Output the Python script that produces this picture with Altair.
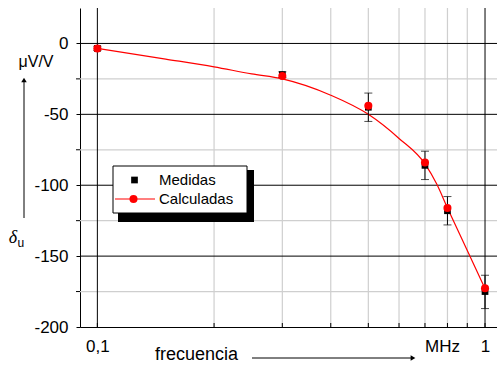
import altair as alt
import pandas as pd

# ---- data ----
freq = [0.1, 0.3, 0.5, 0.7, 0.8, 1.0]                       # MHz
medidas = [-3.5, -22.0, -45.0, -86.0, -118.0, -175.0]         # µV/V
err_low = [-5.0, -24.0, -55.0, -96.0, -128.0, -187.0]
err_high = [-2.0, -20.0, -35.0, -76.0, -108.0, -163.5]
calculadas = [-3.5, -23.0, -44.0, -84.0, -116.0, -172.7]

curve_freq = [0.1, 0.15, 0.2, 0.25, 0.3, 0.4, 0.5, 0.6, 0.7, 0.75, 0.8, 0.9, 1.0]
curve_delta = [-3.5, -11.0, -16.5, -21.5, -25.0, -36.5, -50.0, -67.0, -85.0, -99.0, -116.0, -146.0, -173.0]

x_major = [0.1, 1.0]
x_minor = [0.2, 0.3, 0.4, 0.5, 0.6, 0.7, 0.8, 0.9]
y_major = [-150, -100, -50, 0]
y_minor = [-175, -125, -75, -25]
y_labels = [-200, -150, -100, -50, 0]
x_labels = [0.1, 1.0]

W, H = 417, 319
FONT = "Liberation Sans"

xs = alt.Scale(type="log", domain=[0.0902, 1.0737], nice=False)
ys = alt.Scale(domain=[-200, 25], nice=False)

x_axis = alt.Axis(values=x_labels, labelExpr="datum.value < 0.5 ? '0,1' : '1'",
                  ticks=False, grid=False, title=None, labelFontSize=17, labelFont=FONT,
                  labelColor="black", labelPadding=11, domainColor="black", domainWidth=1,
                  labelFlush=False, labelOverlap=False)
y_axis = alt.Axis(values=y_labels, labelExpr="'' + datum.value", tickSize=4, tickColor="black",
                  grid=False, title=None, labelFontSize=17, labelFont=FONT, labelColor="black",
                  labelPadding=8, domainColor="black", domainWidth=1, labelFlush=False,
                  labelOverlap=False)


def X(field="f"):
    return alt.X(field, type="quantitative", scale=xs, axis=x_axis)


def Y(field="d"):
    return alt.Y(field, type="quantitative", scale=ys, axis=y_axis)


meas_df = pd.DataFrame({"f": freq, "d": medidas, "lo": err_low, "hi": err_high})
calc_df = pd.DataFrame({"f": freq, "d": calculadas})
curve_df = pd.DataFrame({"f": curve_freq, "d": curve_delta})

gx_minor = alt.Chart(pd.DataFrame({"f": x_minor})).mark_rule(color="#cfcfcf", strokeWidth=1.2).encode(x=X())
gy_minor = alt.Chart(pd.DataFrame({"d": y_minor})).mark_rule(color="#cfcfcf", strokeWidth=1.2).encode(y=Y())
gx_major = alt.Chart(pd.DataFrame({"f": x_major})).mark_rule(color="black", strokeWidth=1).encode(x=X())
gy_major = alt.Chart(pd.DataFrame({"d": y_major})).mark_rule(color="black", strokeWidth=1).encode(y=Y())

# minor ticks on the left axis (outward), inward ticks on the bottom axis
ytick_minor = alt.Chart(pd.DataFrame({"d": y_minor})).mark_rule(color="black").encode(
    y=Y(), x=alt.value(-4), x2=alt.value(0))
xticks = alt.Chart(pd.DataFrame({"f": x_major + x_minor})).mark_rule(color="black").encode(
    x=X(), y=alt.value(H - 4), y2=alt.value(H))

curve = alt.Chart(curve_df).mark_line(color="#ff0000", strokeWidth=1.2, interpolate="monotone").encode(
    x=X(), y=Y())

err_rule = alt.Chart(meas_df).mark_rule(color="black", strokeWidth=1).encode(
    x=X(), y=Y("lo"), y2="hi")
cap_lo = alt.Chart(meas_df).mark_tick(color="black", orient="horizontal", size=8, thickness=1).encode(
    x=X(), y=Y("lo"))
cap_hi = alt.Chart(meas_df).mark_tick(color="black", orient="horizontal", size=8, thickness=1).encode(
    x=X(), y=Y("hi"))
squares = alt.Chart(meas_df).mark_square(color="black", size=45, opacity=1).encode(x=X(), y=Y())
circles = alt.Chart(calc_df).mark_circle(color="#ff0000", size=65, opacity=1).encode(x=X(), y=Y())

one = pd.DataFrame({"t": [""]})

# legend (drawn by hand, with its drop shadow)
leg_shadow = alt.Chart(one).mark_rect(color="black").encode(
    x=alt.value(38), x2=alt.value(174), y=alt.value(162), y2=alt.value(214))
leg_box = alt.Chart(one).mark_rect(fill="white", stroke="black", strokeWidth=1).encode(
    x=alt.value(33), x2=alt.value(167), y=alt.value(158), y2=alt.value(205))
leg_sq = alt.Chart(one).mark_square(color="black", size=45, opacity=1).encode(
    x=alt.value(54.5), y=alt.value(172))
leg_line = alt.Chart(one).mark_rule(color="#ff0000", strokeWidth=1.2).encode(
    x=alt.value(35), x2=alt.value(75), y=alt.value(191))
leg_circ = alt.Chart(one).mark_circle(color="#ff0000", size=65, opacity=1).encode(
    x=alt.value(53.5), y=alt.value(191))
leg_t1 = alt.Chart(pd.DataFrame({"t": ["Medidas"]})).mark_text(
    font=FONT, fontSize=15, align="left", baseline="alphabetic", color="black").encode(
    x=alt.value(79), y=alt.value(177), text="t:N")
leg_t2 = alt.Chart(pd.DataFrame({"t": ["Calculadas"]})).mark_text(
    font=FONT, fontSize=15, align="left", baseline="alphabetic", color="black").encode(
    x=alt.value(79), y=alt.value(195.5), text="t:N")


# axis annotations
def label(txt, x, y, size=16, align="left", font=FONT, style="normal"):
    return alt.Chart(pd.DataFrame({"t": [txt]})).mark_text(
        font=font, fontSize=size, align=align, baseline="alphabetic", color="black",
        fontStyle=style).encode(x=alt.value(x), y=alt.value(y), text="t:N")


t_unit = label("μV/V", -44, 58.5, size=16, align="center")
t_delta = label("δ", -67, 235, size=18, align="center", font="Liberation Serif", style="italic")
t_sub = label("u", -62.5, 239, size=12)
t_freq = label("frecuencia", 75, 352, size=18)
t_mhz = label("MHz", 345, 343.5, size=17)

arrow_v = alt.Chart(one).mark_rule(color="black", strokeWidth=1).encode(
    x=alt.value(-56), y=alt.value(73), y2=alt.value(210))
arrow_v_head = alt.Chart(one).mark_point(shape="triangle-up", filled=True, color="black",
                                         size=30, opacity=1).encode(x=alt.value(-56), y=alt.value(72))
arrow_h = alt.Chart(one).mark_rule(color="black", strokeWidth=1).encode(
    x=alt.value(172), x2=alt.value(333), y=alt.value(350))
arrow_h_head = alt.Chart(one).mark_point(shape="triangle-right", filled=True, color="black",
                                         size=30, opacity=1).encode(x=alt.value(333), y=alt.value(350))

chart = alt.layer(
    gx_minor, gy_minor, gx_major, gy_major, ytick_minor, xticks,
    curve, err_rule, cap_lo, cap_hi, squares, circles,
    leg_shadow, leg_box, leg_sq, leg_line, leg_circ, leg_t1, leg_t2,
    t_unit, t_delta, t_sub, t_freq, t_mhz, arrow_v, arrow_v_head, arrow_h, arrow_h_head,
).properties(
    width=W, height=H,
    padding={"left": 80, "top": 8, "right": 0, "bottom": 39},
    autosize=alt.AutoSizeParams(type="none"),
    background="white",
).configure_view(strokeWidth=0)

chart.save("out.html", embed_options={"renderer": "svg", "actions": False})
